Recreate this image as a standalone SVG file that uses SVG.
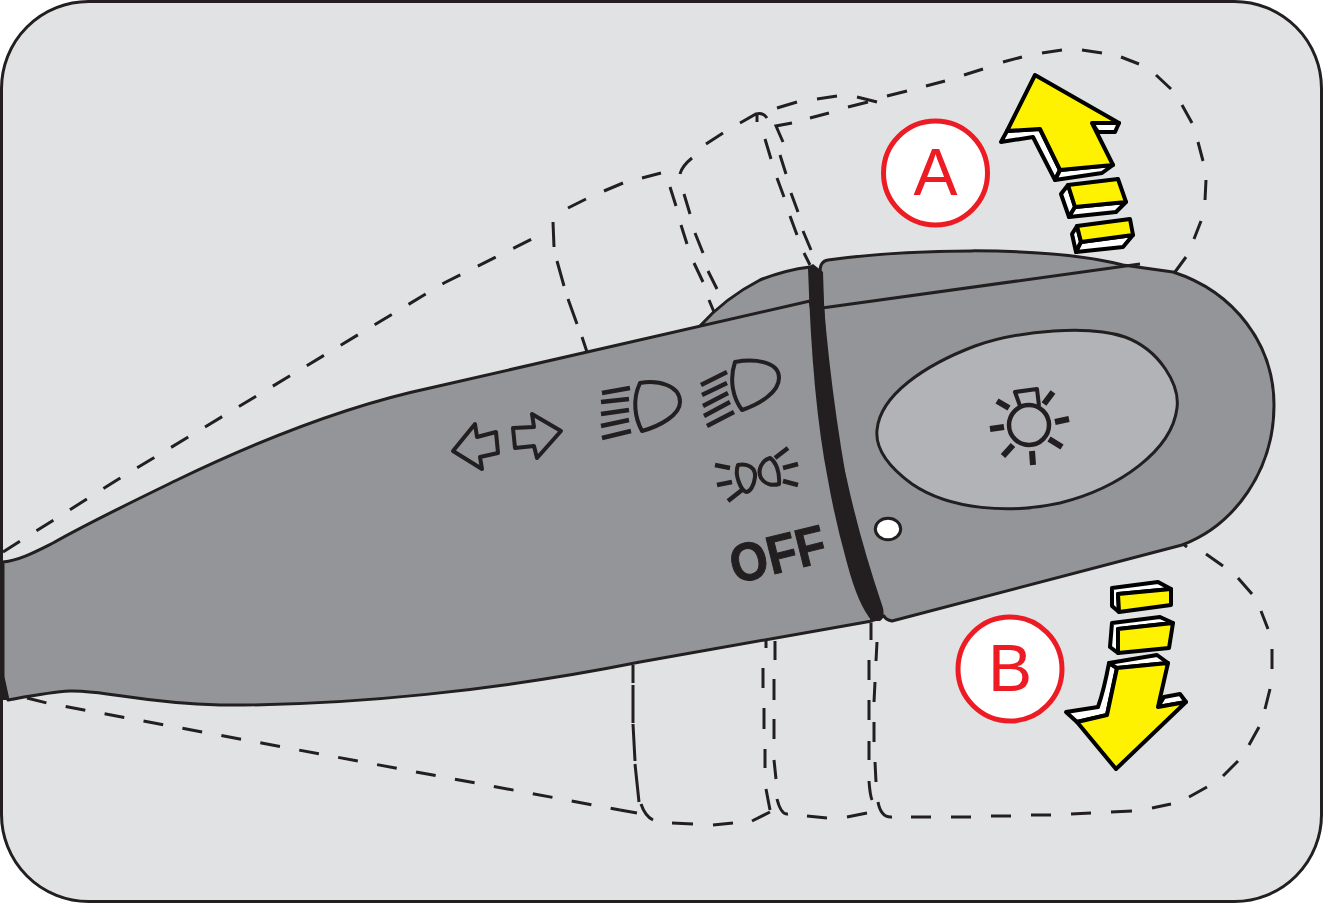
<svg xmlns="http://www.w3.org/2000/svg" width="1323" height="903" viewBox="0 0 1323 903">
<style>
.d{fill:none;stroke:#231f20;stroke-width:3}
.l{fill:none;stroke:#231f20;stroke-width:3;stroke-dasharray:20 19.6}
.o{stroke:#231f20;stroke-width:3;stroke-linejoin:round}
.i{fill:none;stroke:#231f20;stroke-width:4;stroke-linejoin:round}
.b{fill:none;stroke:#231f20;stroke-width:4.5}
.r{fill:none;stroke:#231f20;stroke-width:6}
.y{fill:#fff200;stroke:#000;stroke-width:4;stroke-linejoin:round}
.w{fill:#fff;stroke:#000;stroke-width:4;stroke-linejoin:round}
.c{fill:#fff;stroke:#ed1c24;stroke-width:5}
.t{font-family:"Liberation Sans",Arial,sans-serif;fill:#ed1c24;font-size:66px;text-anchor:middle}
</style>
<rect width="1323" height="903" fill="#fff"/>
<rect id="panel" x="1.5" y="1.5" width="1320" height="900" rx="87" fill="#e1e2e4" stroke="#231f20" stroke-width="3"/>
<g id="ghosts">
<path class="l" d="M3 552 L117 480 L444 283 L534 238"/>
<path class="d" d="M553 222 L554 247 M557 261 L564 286 M568 299 L577 324 M582 337 L587 352 M568 208 L586 199 M604 191 L623 183 M642 178 L661 173"/>
<path class="d" d="M670 187 L676 206 M681 225 L687 244 M694 263 L703 282 M709 300 L714 312 M684 194 L690 214 M695 233 L703 253 M708 271 L717 289"/>
<path class="d" d="M680 174 Q682 166 692 158 M706 144 L723 133 M740 123 L756 114 Q763 112 767 118 M757 113 L757 122 M777 108 L797 102 M817 99 L837 96 M857 97 L877 102"/>
<path class="d" d="M765 139 L771 159 M777 178 L784 197 M790 216 L797 235 M804 253 L810 265 M792 123 L776 126 L783 142 M780 155 L786 174 M791 193 L798 212 M803 231 L811 250 M810 118 L829 113 M848 107 L868 102 M887 96 L907 91"/>
<path class="d" d="M926 86 L945 81 M964 75 L983 69 M1003 62 L1022 57 M1042 53 L1062 50 M1082 50 L1102 53 M1121 57 L1139 64 M1156 75 L1171 89 M1182 105 L1192 123 M1198 142 L1203 161 M1206 180 L1205 200 M1201 221 L1194 239 M1186 257 L1175 272"/>
<path class="l" d="M27 698 L47 703 L620 810"/>
<path class="d" d="M620 810 L637 813 M633 665 L633 683 M633 685 L633 723 M633 724 L635 761 M635 764 L639 802 M641 804 Q645 816 653 820 M672 823 L693 824 M713 825 L733 823 M752 821 L770 812"/>
<path class="d" d="M766 641 L766 648 M763 668 L763 688 M764 708 L764 729 M765 749 L765 768 M766 789 L770 810 M775 641 L775 660 M774 679 L774 700 M774 719 L774 739 M774 760 L776 779 M777 799 Q781 815 788 814 M807 816 L827 818 M847 817 L867 813"/>
<path class="d" d="M871 623 L871 640 M877 642 L876 661 M869 660 L869 680 M875 682 L874 702 M869 700 L869 720 M874 722 L874 742 M869 741 L869 760 M875 762 L876 782 M869 781 Q870 795 872 800 M878 802 Q881 818 892 817 M911 817 L931 817 M951 817 L971 817 M991 816 L1011 816 M1031 815 L1051 815 M1071 814 L1091 813 M1111 812 L1132 811 M1152 808 L1171 804 M1189 797 L1207 787 M1223 776 L1238 761 M1249 745 L1259 727 M1265 709 L1270 689 M1272 669 L1272 649 M1268 629 L1261 611 M1252 594 L1238 578 M1223 566 L1206 554 M1187 547 L1182 543"/>
</g>
<g id="lever">
<path class="o" fill="#939598" d="M700 326 Q725 298 760 280 Q785 270 810 267 L812 310 Z"/>
<path class="o" fill="#939598" d="M3 562 C20 560 35 552 53 543 C90 522 130 503 177 480 C260 440 350 405 430 388 L810 301 L872 621 L640 662 C500 690 350 706 220 705 C140 703 105 690 70 691 C50 692 30 696 8 700 L3 677 Z"/>
<path class="o" fill="#939598" d="M828 260 C900 250 1040 244 1123 265 L1173 272 C1235 292 1274 345 1274 405 C1274 470 1235 525 1182 545 L892 621 Q886 620 884 616 L874 620 C850 520 828 400 820 272 Q820 261 828 260 Z"/>
<path d="M822 308 L1140 264" fill="none" stroke="#231f20" stroke-width="3"/>
<path d="M808 267 L813 264 L823 272 Q826 400 847 480 Q860 540 883 608 Q885 618 880 621 L872 621 Q858 605 847 563 Q835 520 828 480 Q812 400 808 267 Z" fill="#231f20"/>
<path class="o" fill="#b1b3b6" stroke-width="2.5" d="M877 430 C880 395 925 365 975 346 C1020 330 1090 325 1125 337 C1160 350 1180 385 1177 408 C1172 450 1120 488 1060 503 C1010 514 950 510 912 484 C890 468 875 450 877 430 Z"/>
<ellipse cx="888" cy="529" rx="12.7" ry="10.7" fill="#fff" stroke="#231f20" stroke-width="3"/>
<path d="M0 672 L3 672 L9 700 L0 700 Z" fill="#231f20"/>
</g>
<g id="symbols">
<g>
<circle cx="1029" cy="425" r="20" fill="none" stroke="#231f20" stroke-width="4.5"/>
<path class="i" d="M1020 406 L1015 392 L1037 389 L1039 406"/>
<path class="r" d="M997 401 L1009 408 M1053 392 L1044 404 M1069 419 L1055 422 M1062 447 L1049 439 M1033 465 L1032 451 M1003 456 L1013 445 M990 429 L1004 427"/>
</g>
<path class="i" d="M453 451 L475 424 L477 437 L496 432 L498 453 L480 457 L482 469 Z"/>
<path class="i" d="M561 431 L532 414 L534 427 L513 428 L515 448 L534 446 L537 458 Z"/>
<path class="i" d="M640 383 C658 380 680 385 680 402 C680 415 660 426 642 431 C635 418 632 400 640 383 Z"/>
<path class="b" d="M602 393 L630 388 M601 402 L629 399 M601 414 L629 410 M601 426 L629 420 M602 438 L631 431"/>
<path class="i" d="M735 362 C752 359 779 360 779 378 C779 392 760 404 742 410 C733 398 729 380 735 362 Z"/>
<path class="b" d="M701 385 L727 372 M702 395 L727 383 M703 406 L728 393 M704 416 L730 402 M707 426 L734 412"/>
<path class="i" d="M738 465 C748 463 756 468 755 477 C754 486 750 492 746 492 C741 490 734 475 738 465 Z"/>
<path class="i" d="M770 458 C776 462 780 472 779 484 C772 486 765 484 761 478 C757 470 762 460 770 458 Z"/>
<path class="b" d="M715 465 L730 468 M717 485 L732 482 M728 501 L742 490 M775 458 L788 448 M783 468 L798 464 M783 481 L798 485"/>
<text transform="translate(735 584) rotate(-14) scale(.9 1)" font-family="'Liberation Sans',Arial,sans-serif" font-weight="700" font-size="54px" fill="#231f20" stroke="#231f20" stroke-width="1">OFF</text>
</g>
<g id="arrow-a">
<path class="w" d="M1001 142 L1007 131 L1040 129 L1060 170 L1055 180 L1033 137 Z"/>
<path class="w" d="M1055 180 L1060 170 L1113 165 L1102 173 Z"/>
<path class="w" d="M1092 123 L1119 123 L1115 132 L1098 132 Z"/>
<path class="y" d="M1035 75 L1119 123 L1092 123 L1113 165 L1060 170 L1040 129 L1007 131 Z"/>
<path class="w" d="M1061 194 L1068 185 L1075 207 L1069 217 Z"/>
<path class="w" d="M1069 217 L1075 207 L1126 202 L1116 212 Z"/>
<path class="y" d="M1068 185 L1118 179 L1126 202 L1075 207 Z"/>
<path class="w" d="M1072 234 L1077 226 L1081 242 L1076 252 Z"/>
<path class="w" d="M1076 252 L1081 242 L1133 235 L1123 247 Z"/>
<path class="y" d="M1077 226 L1130 219 L1133 235 L1081 242 Z"/>
</g>
<g id="arrow-b">
<path class="w" d="M1109 663 L1117 668 L1107 715 L1077 722 L1066 712 L1098 707 Q1104 690 1109 663 Z"/>
<path class="w" d="M1109 663 L1157 655 L1168 663 L1117 668 Z"/>
<path class="w" d="M1158 707 L1164 697 L1180 694 L1186 702 Z"/>
<path class="y" d="M1117 668 L1168 663 L1158 707 L1186 702 L1116 769 L1077 722 L1107 715 Z"/>
<path class="w" d="M1112 588 L1158 582 L1171 589 L1118 594 L1119 612 L1112 606 Z"/>
<path class="y" d="M1118 594 L1171 589 L1171 605 L1119 612 Z"/>
<path class="w" d="M1112 623 L1160 617 L1173 623 L1118 629 L1118 653 L1110 647 Z"/>
<path class="y" d="M1118 629 L1173 623 L1169 648 L1118 653 Z"/>
</g>
<g id="label-a"><circle class="c" cx="935.5" cy="173" r="52"/><text class="t" x="935.5" y="195">A</text></g>
<g id="label-b"><circle class="c" cx="1010" cy="669" r="52"/><text class="t" x="1010" y="691">B</text></g>
</svg>
